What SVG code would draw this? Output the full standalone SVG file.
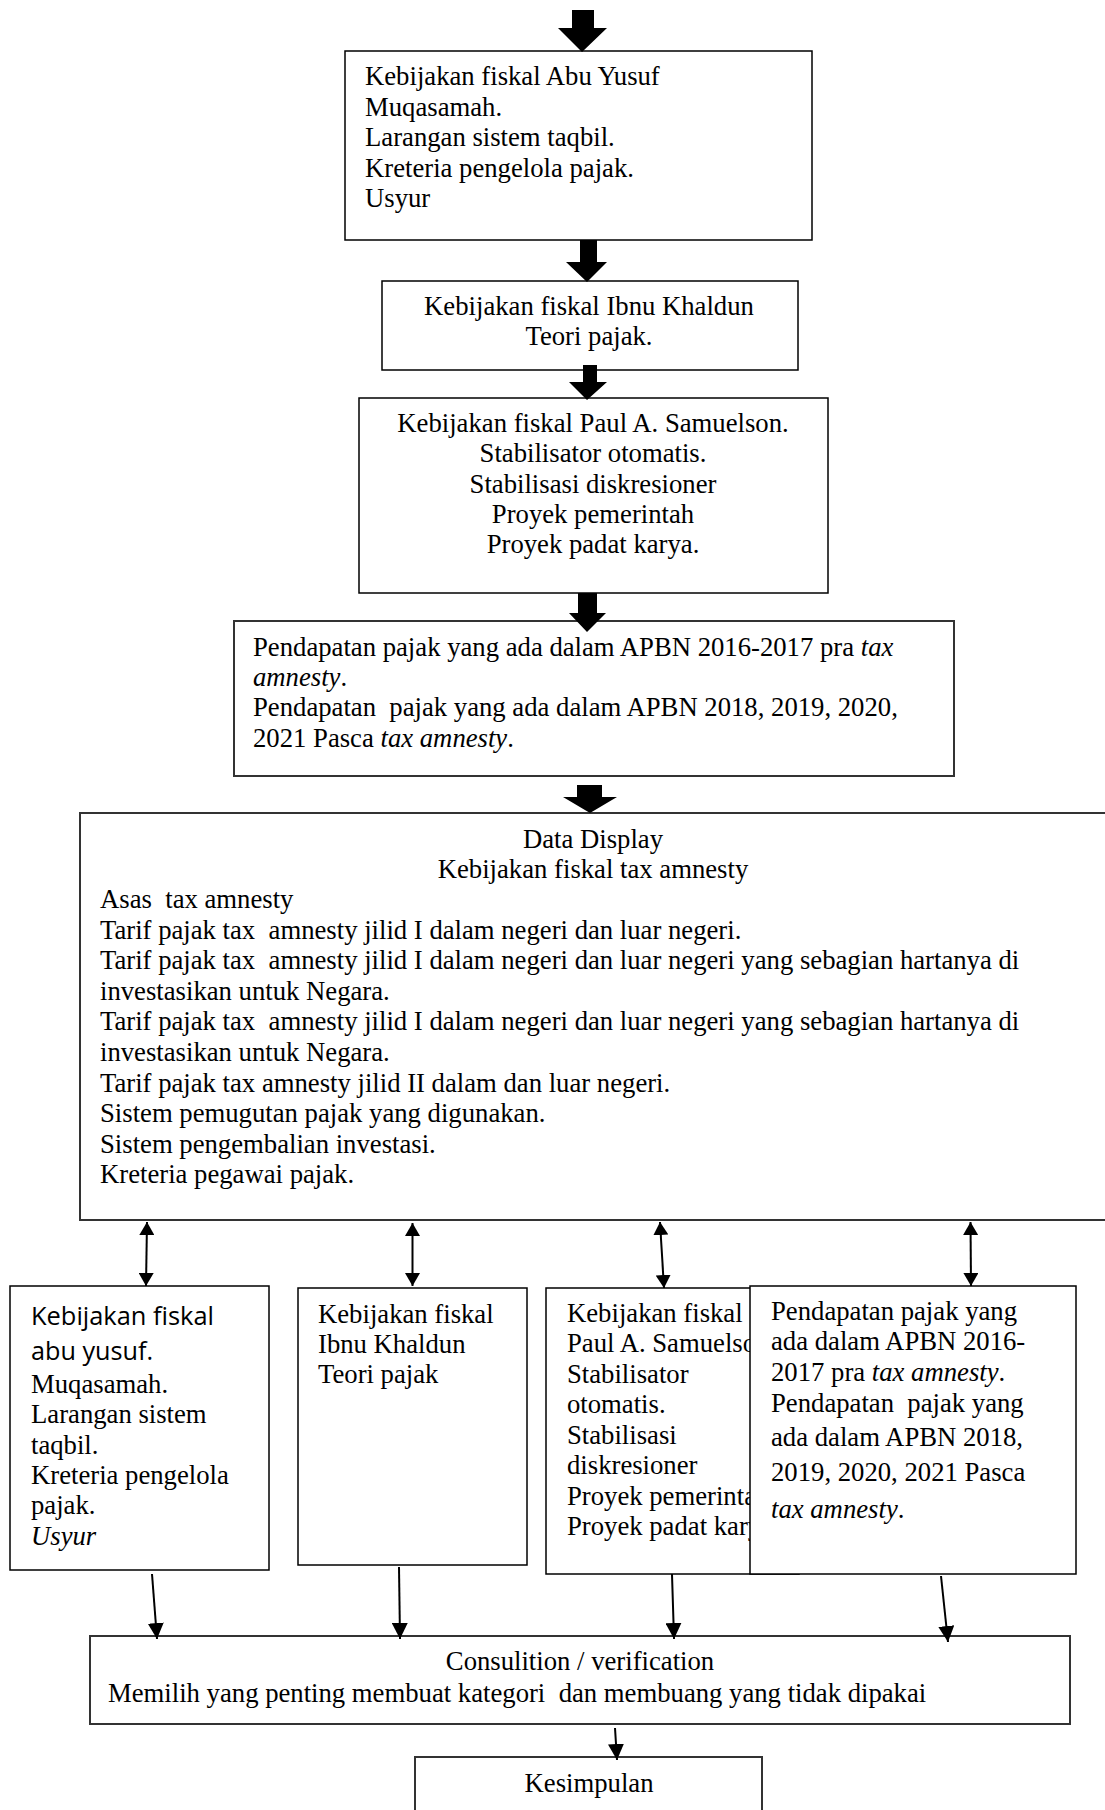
<svg xmlns="http://www.w3.org/2000/svg" width="1105" height="1810" viewBox="0 0 1105 1810">
<style>
.bg{fill:#fff}
.box{fill:#fff;stroke:#000;stroke-width:1.5}
.box2{fill:#fff;stroke:#333;stroke-width:2}
.t{font-family:"Liberation Serif","Times New Roman",serif;font-size:26.7px;fill:#000;white-space:pre}
.s{font-family:"Open Sans","Noto Sans",sans-serif;font-size:25px;fill:#000;white-space:pre}
.c{text-anchor:middle}
.i{font-style:italic}
.blk{fill:#000}
.ln{stroke:#000;stroke-width:2;fill:none}
</style>
<defs>
<marker id="arr" markerUnits="userSpaceOnUse" markerWidth="16" markerHeight="16" refX="16" refY="8" orient="auto"><path d="M0,0 L16,8 L0,16 z" fill="#000"/></marker>
<marker id="dbl" markerUnits="userSpaceOnUse" markerWidth="13" markerHeight="15" refX="13" refY="7.5" orient="auto-start-reverse"><path d="M0,0 L13,7.5 L0,15 z" fill="#000"/></marker>
<clipPath id="clip8"><rect x="546" y="1288" width="204" height="286"/></clipPath>
</defs>
<rect class="bg" x="0" y="0" width="1105" height="1810"/>

<g id="box-abu-yusuf">
<rect class="box" x="345" y="51" width="467" height="189"/>
<text class="t" x="365" y="85">Kebijakan fiskal Abu Yusuf</text>
<text class="t" x="365" y="115.5">Muqasamah.</text>
<text class="t" x="365" y="146">Larangan sistem taqbil.</text>
<text class="t" x="365" y="176.5">Kreteria pengelola pajak.</text>
<text class="t" x="365" y="207">Usyur</text>
</g>

<g id="box-ibnu-khaldun">
<rect class="box" x="382" y="281" width="416" height="89"/>
<text class="t c" x="589" y="315">Kebijakan fiskal Ibnu Khaldun</text>
<text class="t c" x="589" y="345">Teori pajak.</text>
</g>

<g id="box-samuelson">
<rect class="box" x="359" y="398" width="469" height="195"/>
<text class="t c" x="593" y="432">Kebijakan fiskal Paul A. Samuelson.</text>
<text class="t c" x="593" y="462">Stabilisator otomatis.</text>
<text class="t c" x="593" y="493">Stabilisasi diskresioner</text>
<text class="t c" x="593" y="523">Proyek pemerintah</text>
<text class="t c" x="593" y="553">Proyek padat karya.</text>
</g>

<g id="box-pendapatan">
<rect class="box2" x="234" y="621" width="720" height="155"/>
<text class="t" x="253" y="656">Pendapatan pajak yang ada dalam APBN 2016-2017 pra <tspan class="i">tax</tspan></text>
<text class="t" x="253" y="686"><tspan class="i">amnesty</tspan>.</text>
<text class="t" x="253" y="716">Pendapatan  pajak yang ada dalam APBN 2018, 2019, 2020,</text>
<text class="t" x="253" y="747">2021 Pasca <tspan class="i">tax amnesty</tspan>.</text>
</g>

<g id="box-data-display">
<rect class="box2" x="80" y="813" width="1040" height="407"/>
<text class="t c" x="593" y="848">Data Display</text>
<text class="t c" x="593" y="878">Kebijakan fiskal tax amnesty</text>
<text class="t" x="100" y="908">Asas  tax amnesty</text>
<text class="t" x="100" y="939">Tarif pajak tax  amnesty jilid I dalam negeri dan luar negeri.</text>
<text class="t" x="100" y="969">Tarif pajak tax  amnesty jilid I dalam negeri dan luar negeri yang sebagian hartanya di</text>
<text class="t" x="100" y="1000">investasikan untuk Negara.</text>
<text class="t" x="100" y="1030">Tarif pajak tax  amnesty jilid I dalam negeri dan luar negeri yang sebagian hartanya di</text>
<text class="t" x="100" y="1061">investasikan untuk Negara.</text>
<text class="t" x="100" y="1092">Tarif pajak tax amnesty jilid II dalam dan luar negeri.</text>
<text class="t" x="100" y="1122">Sistem pemugutan pajak yang digunakan.</text>
<text class="t" x="100" y="1153">Sistem pengembalian investasi.</text>
<text class="t" x="100" y="1183">Kreteria pegawai pajak.</text>
</g>

<g id="box-abu-yusuf-2">
<rect class="box" x="10" y="1286" width="259" height="284"/>
<text class="s" x="31" y="1325" textLength="183" lengthAdjust="spacingAndGlyphs">Kebijakan fiskal</text>
<text class="s" x="31" y="1360" textLength="122" lengthAdjust="spacingAndGlyphs">abu yusuf.</text>
<text class="t" x="31" y="1393">Muqasamah.</text>
<text class="t" x="31" y="1423">Larangan sistem</text>
<text class="t" x="31" y="1454">taqbil.</text>
<text class="t" x="31" y="1484">Kreteria pengelola</text>
<text class="t" x="31" y="1514">pajak.</text>
<text class="t i" x="31" y="1545">Usyur</text>
</g>

<g id="box-ibnu-khaldun-2">
<rect class="box" x="298" y="1288" width="229" height="277"/>
<text class="t" x="318" y="1323">Kebijakan fiskal</text>
<text class="t" x="318" y="1353">Ibnu Khaldun</text>
<text class="t" x="318" y="1383">Teori pajak</text>
</g>

<g id="box-samuelson-2">
<rect class="box" x="546" y="1288" width="253" height="286"/>
<g clip-path="url(#clip8)">
<text class="t" x="567" y="1322">Kebijakan fiskal</text>
<text class="t" x="567" y="1352">Paul A. Samuelson.</text>
<text class="t" x="567" y="1383">Stabilisator</text>
<text class="t" x="567" y="1413">otomatis.</text>
<text class="t" x="567" y="1444">Stabilisasi</text>
<text class="t" x="567" y="1474">diskresioner</text>
<text class="t" x="567" y="1505">Proyek pemerintah</text>
<text class="t" x="567" y="1535">Proyek padat karya.</text>
</g>
</g>

<g id="box-pendapatan-2">
<rect class="box" x="750" y="1286" width="326" height="288"/>
<text class="t" x="771" y="1320">Pendapatan pajak yang</text>
<text class="t" x="771" y="1350">ada dalam APBN 2016-</text>
<text class="t" x="771" y="1381">2017 pra <tspan class="i">tax amnesty</tspan>.</text>
<text class="t" x="771" y="1412">Pendapatan  pajak yang</text>
<text class="t" x="771" y="1446">ada dalam APBN 2018,</text>
<text class="t" x="771" y="1481">2019, 2020, 2021 Pasca</text>
<text class="t" x="771" y="1518"><tspan class="i">tax amnesty</tspan>.</text>
</g>

<g id="box-consultation">
<rect class="box2" x="90" y="1636" width="980" height="88"/>
<text class="t c" x="580" y="1670">Consulition / verification</text>
<text class="t" x="108" y="1702">Memilih yang penting membuat kategori  dan membuang yang tidak dipakai</text>
</g>

<g id="box-kesimpulan">
<rect class="box2" x="415" y="1757" width="347" height="70"/>
<text class="t c" x="589" y="1792">Kesimpulan</text>
</g>

<g id="connectors">
<polygon class="blk" points="572,10 594,10 594,28 607,28 582,52 558,28 572,28"/>
<polygon class="blk" points="580,240 597,240 597,262 607,262 587,282 566,262 580,262"/>
<polygon class="blk" points="583,365 597,365 597,382 607,382 587,400 569,382 583,382"/>
<polygon class="blk" points="578,593 597,593 597,613 606,613 587,632 569,613 578,613"/>
<polygon class="blk" points="577,785 602,785 602,797 617,797 590,813 563,797 577,797"/>
<line class="ln" x1="147" y1="1222" x2="146" y2="1286" marker-start="url(#dbl)" marker-end="url(#dbl)"/>
<line class="ln" x1="412.5" y1="1223" x2="412.5" y2="1286" marker-start="url(#dbl)" marker-end="url(#dbl)"/>
<line class="ln" x1="660" y1="1222" x2="664" y2="1288" marker-start="url(#dbl)" marker-end="url(#dbl)"/>
<line class="ln" x1="970.5" y1="1222" x2="971" y2="1286" marker-start="url(#dbl)" marker-end="url(#dbl)"/>
<line class="ln" x1="152" y1="1574" x2="157" y2="1639" marker-end="url(#arr)"/>
<line class="ln" x1="399" y1="1567" x2="400" y2="1639" marker-end="url(#arr)"/>
<line class="ln" x1="672" y1="1574" x2="674" y2="1639" marker-end="url(#arr)"/>
<line class="ln" x1="941" y1="1576" x2="948" y2="1642" marker-end="url(#arr)"/>
<line class="ln" x1="615" y1="1728" x2="617" y2="1760" marker-end="url(#arr)"/>
</g>
</svg>
